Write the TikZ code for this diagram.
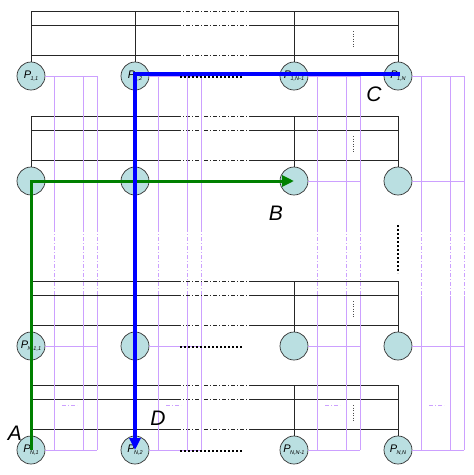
\documentclass[tikz,border=0pt]{standalone}
\usepackage{fontspec}
\setmainfont{Liberation Sans}
\usetikzlibrary{arrows.meta}
\usepackage{xcolor}
\definecolor{cellfill}{RGB}{186,223,225}
\definecolor{wirepurple}{RGB}{204,160,255}
\definecolor{pathgreen}{RGB}{0,128,0}
\newcommand{\plab}[1]{\textit{P}\kern-0.6pt\raisebox{-2.6pt}{\fontsize{5.5}{5.5}\selectfont\textit{#1}}}

\begin{document}
\begin{tikzpicture}[x=1pt,y=-1pt,
  cell/.style={circle,draw=black!80,fill=cellfill,line width=0.7pt,minimum size=28pt,inner sep=0pt,font=\fontsize{11}{11}\selectfont},
  bus/.style={black!85,line width=0.8pt},
  wire/.style={wirepurple,line width=0.8pt},
  dashdot/.style={dash pattern=on 4pt off 2pt on 1pt off 2pt},
  dotrow/.style={black,line width=2pt,dash pattern=on 2pt off 2pt},
  tag/.style={font=\fontsize{21}{21}\selectfont\itshape}]
  \useasboundingbox (0,0) rectangle (474,475);
  % buses above each row
  \foreach \y in {76,181,346,450}{
    \foreach \d in {65,51,21}{
      \draw[bus] (31,\y-\d) -- (177,\y-\d);
      \draw[bus,dashdot] (177,\y-\d) -- (252,\y-\d);
      \draw[bus] (252,\y-\d) -- (398,\y-\d);
    }
    \draw[black!70,line width=0.6pt,dash pattern=on 1pt off 1.5pt] (353,\y-45) -- (353,\y-29);
  }
  % purple wires next to each column
  \foreach \x in {31,135,294,398}{
    \foreach \o in {23,52,66}{
      \draw[wire] (\x+\o,76) -- (\x+\o,228);
      \draw[wire,dashdot] (\x+\o,228) -- (\x+\o,296);
      \draw[wire] (\x+\o,296) -- (\x+\o,450);
    }
    \draw[wire,line width=0.6pt,dashdot] (\x+31,405) -- (\x+46,405);
  }
  % processors
  \node[cell] (p11) at (31,76) {\plab{1,1}};
  \node[cell] (p12) at (135,76) {\plab{1,2}};
  \node[cell] (p13) at (294,76) {\plab{1,N-1}};
  \node[cell] (p14) at (398,76) {\plab{1,N}};
  \node[cell] (p21) at (31,181) {};
  \node[cell] (p22) at (135,181) {};
  \node[cell] (p23) at (294,181) {};
  \node[cell] (p24) at (398,181) {};
  \node[cell] (p31) at (31,346) {\plab{N-1,1}};
  \node[cell] (p32) at (135,346) {};
  \node[cell] (p33) at (294,346) {};
  \node[cell] (p34) at (398,346) {};
  \node[cell] (p41) at (31,450) {\plab{N,1}};
  \node[cell] (p42) at (135,450) {\plab{N,2}};
  \node[cell] (p43) at (294,450) {\plab{N,N-1}};
  \node[cell] (p44) at (398,450) {\plab{N,N}};
  \foreach \r/\y in {1/76,2/181,3/346,4/450}{
    \foreach \c/\x in {1/31,2/135,3/294,4/398}{
      \draw[bus] (\x,\y-65) -- (p\r\c.north);
      \draw[wire] (p\r\c.east) -- ++(52,0);
    }
    \draw[dotrow] (180,\y+1) -- (242,\y+1);
  }
  \draw[dotrow] (398,225) -- (398,273);
  % routes
  \draw[pathgreen,line width=3pt,-{Triangle[length=12pt,width=11pt]}]
    (p41.center) |- (p23.center);
  \draw[blue,line width=3.5pt,-{Triangle[length=12pt,width=11pt]}]
    ([xshift=2pt,yshift=2pt]p14.center) -| (p42.center);
  \node[tag] (tA) at (15,433) {A};
  \node[tag] (tB) at (276,213) {B};
  \node[tag] (tC) at (374,94) {C};
  \node[tag] (tD) at (158,418) {D};
\end{tikzpicture}
\end{document}
